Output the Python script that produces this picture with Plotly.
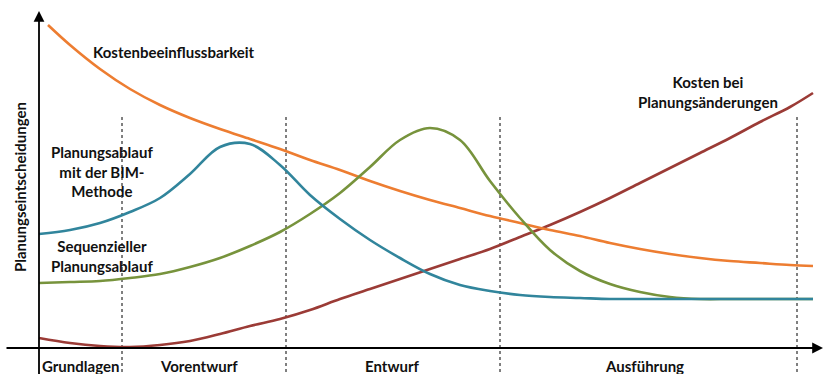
import plotly.graph_objects as go

# Data (x: time axis units, y: height units above the time axis)
grid_x = [0, 31, 61, 91, 121, 151, 181, 211, 241, 271, 301, 331, 361, 391, 421,
          451, 481, 511, 541, 571, 601, 631, 661, 691, 721, 751, 774]

orange_x = [9] + grid_x[1:]
orange_y = [323, 303, 279, 259, 243, 230, 219, 209, 199, 188, 178, 167, 157, 148,
            140, 132, 125, 118, 112, 105, 99, 94, 90, 87, 85, 83, 82]

blue_x = grid_x
blue_y = [114, 118, 125, 136, 150, 174, 201, 204, 183, 153, 129, 108, 90, 74, 63,
          57, 53, 51, 50, 49, 49, 49, 49, 49, 49, 49, 49]

green_x = grid_x
green_y = [65, 66, 67, 70, 74, 81, 90, 102, 116, 134, 155, 181, 208, 220, 208,
           167, 130, 98, 77, 64, 56, 51, 49, 49, 49, 49, 49]

red_x = grid_x
red_y = [10, 5, 2, 1, 3, 7, 14, 22, 29, 38, 49, 59, 69, 79, 89,
         99, 111, 123, 136, 150, 165, 180, 195, 210, 226, 241, 255]

phase_bounds = [83, 247, 461, 758]
phase_labels = ["Grundlagen", "Vorentwurf", "Entwurf", "Ausführung"]
phase_label_x = [41, 160, 353, 605]

series_labels = ["Kostenbeeinflussbarkeit", "Planungsablauf<br>mit der BIM-<br>Methode",
                 "Sequenzieller<br>Planungsablauf", "Kosten bei<br>Planungsänderungen"]
series_label_pos = [(135, 296), (63, 177), (63, 92), (669, 256)]

y_title = "Planungseintscheidungen"

ORANGE = "#ED7D31"
BLUE = "#31859C"
GREEN = "#77933C"
RED = "#9B3B36"

fig = go.Figure()
for xs, ys, c in [(red_x, red_y, RED), (orange_x, orange_y, ORANGE),
                  (green_x, green_y, GREEN), (blue_x, blue_y, BLUE)]:
    fig.add_trace(go.Scatter(x=xs, y=ys, mode="lines",
                             line=dict(color=c, width=2.6, shape="spline", smoothing=1.0),
                             hoverinfo="skip", showlegend=False))

# dotted phase boundaries
for b in phase_bounds:
    fig.add_shape(type="line", x0=b, x1=b, y0=-30, y1=231, xref="x", yref="y",
                  line=dict(color="black", width=1, dash="dot"), layer="below")

FONT = dict(family="Lato", size=15, color="#111111")

# axes as arrows
fig.add_annotation(x=0, y=337, ax=0, ay=-30, xref="x", yref="y", axref="x", ayref="y",
                   showarrow=True, arrowhead=2, arrowsize=1.2, arrowwidth=1.8, arrowcolor="black", text="")
fig.add_annotation(x=784, y=0, ax=-34, ay=0, xref="x", yref="y", axref="x", ayref="y",
                   showarrow=True, arrowhead=2, arrowsize=1.2, arrowwidth=1.8, arrowcolor="black", text="")

for txt, (x, y) in zip(series_labels, series_label_pos):
    fig.add_annotation(x=x, y=y, text="<b>" + txt + "</b>", showarrow=False,
                       font=FONT, xanchor="center", yanchor="middle", align="center")

for txt, x in zip(phase_labels, phase_label_x):
    fig.add_annotation(x=x, y=-18, text="<b>" + txt + "</b>", showarrow=False,
                       font=FONT, xanchor="center", yanchor="middle")

fig.add_annotation(x=-19, y=161, text="<b>" + y_title + "</b>", textangle=-90, showarrow=False,
                   font=FONT, xanchor="center", yanchor="middle")

fig.update_layout(
    width=824, height=374, margin=dict(l=0, r=0, t=0, b=0),
    paper_bgcolor="white", plot_bgcolor="white",
    xaxis=dict(range=[-39, 785], visible=False, fixedrange=True),
    yaxis=dict(range=[-26, 348], visible=False, fixedrange=True),
)
fig.write_html("out.html")
